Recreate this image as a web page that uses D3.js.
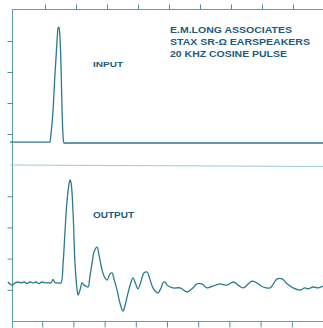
<!DOCTYPE html>
<meta charset="utf-8">
<style>
    body {
        margin: 0;
        background: #fff;
    }

    svg {
        display: block;
        font-family: "Liberation Sans", Arial, sans-serif;
        font-weight: bold;
    }

    .frame {
        stroke: #5e9fb2;
        stroke-width: 1.1;
        fill: none;
    }

    .axis line {
        stroke: #4d8fa3;
        stroke-width: 1;
    }

    .axis path {
        display: none;
    }

    .wave {
        fill: none;
        stroke: #2a7a8e;
        stroke-width: 1.3;
        stroke-linejoin: round;
    }

    .label {
        fill: #1d5c80;
    }
</style>
<body>
<script src="https://cdn.jsdelivr.net/npm/d3@7"></script>
<script>
    const width = 323;
    const height = 328;

    // tick positions (divisions), no numbers printed on the plot
    const xTicks = [1, 2, 3, 4, 5, 6, 7, 8, 9];
    const yTicks = [1, 2, 3, 4];

    const titleLines = ["E.M.LONG ASSOCIATES", "STAX SR-\u03A9 EARSPEAKERS", "20 KHZ COSINE PULSE"];

    // input: 20 kHz cosine pulse [division, level]
    const inputT = [-0.13, 1.16, 1.19, 1.26, 1.32, 1.39, 1.42, 1.45, 1.48, 1.52, 1.55, 1.58, 1.61, 2.77, 5.5, 10.0];
    const inputV = [0.74, 0.74, 0.97, 1.77, 2.90, 4.03, 4.42, 4.45, 4.19, 3.06, 1.77, 0.97, 0.71, 0.71, 0.71, 0.71];

    // output: earspeaker response [division, level]
    const outputT = [-0.10, 0.03, 0.13, 0.22, 0.32, 0.42, 0.51, 0.61, 0.71, 0.80, 0.90, 0.99, 1.09, 1.19, 1.28, 1.35, 1.41, 1.51, 1.60,
        1.67, 1.73, 1.79, 1.86, 1.89, 1.92, 1.99, 2.05, 2.12, 2.15, 2.21, 2.28, 2.34, 2.40, 2.47, 2.53, 2.60, 2.66, 2.76, 2.82,
        2.92, 3.01, 3.08, 3.17, 3.24, 3.30, 3.40, 3.49, 3.59, 3.65, 3.75, 3.85, 3.91, 4.01, 4.07, 4.17, 4.26, 4.36, 4.46, 4.55,
        4.65, 4.71, 4.81, 4.87, 4.94, 5.00, 5.19, 5.42, 5.64, 5.80, 5.96, 6.12, 6.28, 6.47, 6.70, 6.92, 7.12, 7.28, 7.44, 7.72,
        7.88, 8.08, 8.30, 8.53, 8.69, 8.85, 9.04, 9.26, 9.42, 9.52, 9.68, 9.84, 10.0];
    const outputV = [1.25, 1.15, 1.22, 1.25, 1.22, 1.25, 1.20, 1.25, 1.22, 1.25, 1.20, 1.25, 1.22, 1.23, 1.22, 1.33, 1.23, 1.22, 1.22,
        1.86, 2.85, 3.78, 4.39, 4.52, 4.46, 3.46, 1.86, 0.99, 0.83, 0.99, 1.22, 1.15, 1.12, 1.09, 1.44, 1.86, 2.21, 2.37, 2.12,
        1.63, 1.38, 1.31, 1.51, 1.54, 1.35, 0.99, 0.58, 0.32, 0.48, 0.90, 1.25, 1.38, 1.15, 1.03, 1.28, 1.54, 1.57, 1.31, 1.06,
        0.93, 0.90, 1.06, 1.22, 1.25, 1.15, 1.06, 1.06, 0.93, 1.03, 1.19, 1.19, 1.06, 1.12, 1.19, 1.15, 1.25, 1.15, 1.06, 1.28,
        1.22, 1.09, 1.06, 1.35, 1.35, 1.19, 1.06, 0.99, 1.06, 1.03, 1.09, 1.06, 1.12];

    const svg = d3.select('body')
        .append('svg')
        .attr('width', width)
        .attr('height', height);

    // scales: each panel has 5 vertical divisions, 10 horizontal
    const xTop = d3.scaleLinear().domain([0, 10]).range([14, 324]);
    const yTop = d3.scaleLinear().domain([0, 5]).range([165, 10]);
    const xBot = d3.scaleLinear().domain([0, 10]).range([11, 323]);
    const yBot = d3.scaleLinear().domain([0, 5]).range([321, 165]);

    // frame
    svg.append('line').attr('class', 'frame')
        .attr('x1', 12.5).attr('x2', 12.5).attr('y1', yTop(5)).attr('y2', height);
    svg.append('line').attr('class', 'frame')
        .attr('x1', 12).attr('x2', width).attr('y1', yTop(5) - 0.5).attr('y2', yTop(5) - 0.5);
    svg.append('line').attr('class', 'frame')
        .attr('x1', 10).attr('x2', width).attr('y1', yBot(5)).attr('y2', yBot(5) + 1.5)
        .style('stroke', '#9ccbd8');
    svg.append('line').attr('class', 'frame')
        .attr('x1', 12).attr('x2', width).attr('y1', yBot(0) + 0.5).attr('y2', yBot(0) + 0.5);

    // ticks
    svg.append('g')
        .attr('class', 'axis')
        .attr('transform', 'translate(0,' + (yTop(5) - 0.5) + ')')
        .call(d3.axisTop(xTop).tickValues(xTicks).tickSize(5).tickFormat(''));

    svg.append('g')
        .attr('class', 'axis')
        .attr('transform', 'translate(0,' + (yBot(0) + 0.5) + ')')
        .call(d3.axisBottom(xBot).tickValues(xTicks).tickSize(6).tickFormat(''));

    svg.append('g')
        .attr('class', 'axis')
        .attr('transform', 'translate(12.5,0)')
        .call(d3.axisLeft(yTop).tickValues(yTicks).tickSize(5).tickFormat(''));

    svg.append('g')
        .attr('class', 'axis')
        .attr('transform', 'translate(12.5,0)')
        .call(d3.axisLeft(yBot).tickValues(yTicks).tickSize(5).tickFormat(''));

    // traces
    const inputData = inputT.map((t, i) => [t, inputV[i]]);
    const outputData = outputT.map((t, i) => [t, outputV[i]]);

    const inputLine = d3.line()
        .x(d => xTop(d[0]))
        .y(d => yTop(d[1]))
        .curve(d3.curveMonotoneX);

    const outputLine = d3.line()
        .x(d => xBot(d[0]))
        .y(d => yBot(d[1]))
        .curve(d3.curveCatmullRom.alpha(0.5));

    svg.append('path')
        .datum(inputData)
        .attr('class', 'wave')
        .attr('d', inputLine);

    svg.append('path')
        .datum(outputData)
        .attr('class', 'wave')
        .attr('d', outputLine);

    // labels
    const titleWidths = [122, 140, 117];
    svg.append('g')
        .selectAll('text')
        .data(titleLines)
        .enter().append('text')
        .attr('class', 'label')
        .attr('x', 170)
        .attr('y', (d, i) => 32.5 + i * 12)
        .attr('font-size', 9)
        .attr('textLength', (d, i) => titleWidths[i])
        .attr('lengthAdjust', 'spacingAndGlyphs')
        .text(d => d);

    svg.append('text')
        .attr('class', 'label')
        .attr('x', 93)
        .attr('y', 66.8)
        .attr('font-size', 8)
        .attr('textLength', 30)
        .attr('lengthAdjust', 'spacingAndGlyphs')
        .text('INPUT');

    svg.append('text')
        .attr('class', 'label')
        .attr('x', 93)
        .attr('y', 218.4)
        .attr('font-size', 8.4)
        .attr('textLength', 41)
        .attr('lengthAdjust', 'spacingAndGlyphs')
        .text('OUTPUT');
</script>
</body>
</html>
